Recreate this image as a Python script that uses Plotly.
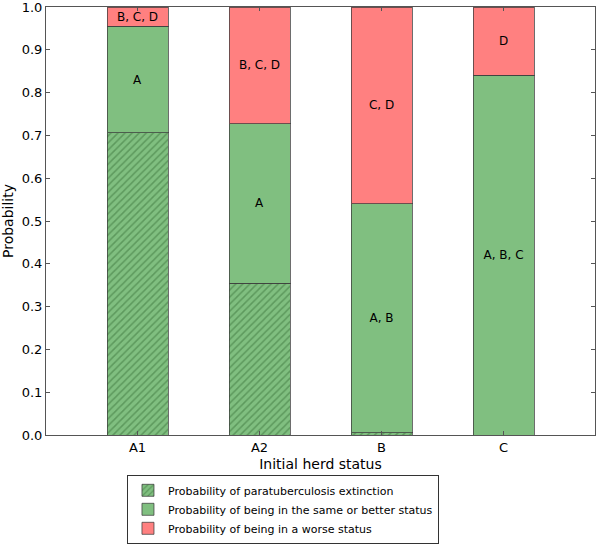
import plotly.graph_objects as go

categories = ["A1", "A2", "B", "C"]
p_extinction = [0.706, 0.355, 0.005, 0.0]
p_same_or_better = [0.955, 0.727, 0.540, 0.840]
labels_same = ["A", "A", "A, B", "A, B, C"]
labels_worse = ["B, C, D", "B, C, D", "C, D", "D"]
legend_names = [
    "Probability of paratuberculosis extinction",
    "Probability of being in the same or better status",
    "Probability of being in a worse status",
]
y_ticks = [0.0, 0.1, 0.2, 0.3, 0.4, 0.5, 0.6, 0.7, 0.8, 0.9, 1.0]

x = list(range(len(categories)))
green_rest = [s - e for s, e in zip(p_same_or_better, p_extinction)]
worse = [1 - s for s in p_same_or_better]

green = "#80bf80"
red = "#ff8080"
edge = "rgba(60,60,60,0.75)"
font = "DejaVu Sans"

fig = go.Figure()
fig.add_trace(go.Bar(
    x=x, y=p_extinction, width=0.5, name=legend_names[0],
    marker=dict(color=green, line=dict(color=edge, width=1),
                pattern=dict(shape="/", fgcolor="#3a733a", bgcolor=green, size=5, solidity=0.3)),
    hoverinfo="skip",
))
fig.add_trace(go.Bar(
    x=x, y=green_rest, width=0.5, name=legend_names[1],
    marker=dict(color=green, line=dict(color=edge, width=1)),
    text=labels_same, textposition="inside", insidetextanchor="middle",
    textangle=0, constraintext="none",
    textfont=dict(family=font, size=12, color="black"),
))
fig.add_trace(go.Bar(
    x=x, y=worse, width=0.5, name=legend_names[2],
    marker=dict(color=red, line=dict(color=edge, width=1)),
    text=labels_worse, textposition="inside", insidetextanchor="middle",
    textangle=0, constraintext="none",
    textfont=dict(family=font, size=12, color="black"),
))

axis_common = dict(
    showline=True, linecolor="#555", linewidth=1, mirror="ticks",
    ticks="inside", tickcolor="#555", ticklen=4,
    showgrid=False, zeroline=False, ticklabeloverflow="allow",
    tickfont=dict(family=font, size=13, color="black"),
)

fig.update_layout(
    width=598, height=546,
    barmode="stack",
    plot_bgcolor="white", paper_bgcolor="white",
    margin=dict(l=46, r=3, t=7, b=111, autoexpand=False),
    font=dict(family=font, color="black"),
    xaxis=dict(
        **axis_common,
        tickmode="array", tickvals=x, ticktext=categories,
        range=[-0.75, 3.75],
        title=dict(text="Initial herd status", font=dict(family=font, size=14), standoff=5),
    ),
    yaxis=dict(
        **axis_common,
        range=[0, 1.0], tickmode="array", tickvals=y_ticks,
        ticktext=[f"{v:.1f}" for v in y_ticks],
        title=dict(text="Probability", font=dict(family=font, size=14), standoff=10),
    ),
    legend=dict(
        orientation="v", x=0.1475, xanchor="left", y=-0.093, yanchor="top",
        bordercolor="#333", borderwidth=1, bgcolor="white",
        font=dict(family=font, size=11), traceorder="normal",
        tracegroupgap=0,
    ),
    showlegend=True,
)

fig.write_html("out.html", config={"displayModeBar": False},
               post_script="document.body.style.margin='0';")
